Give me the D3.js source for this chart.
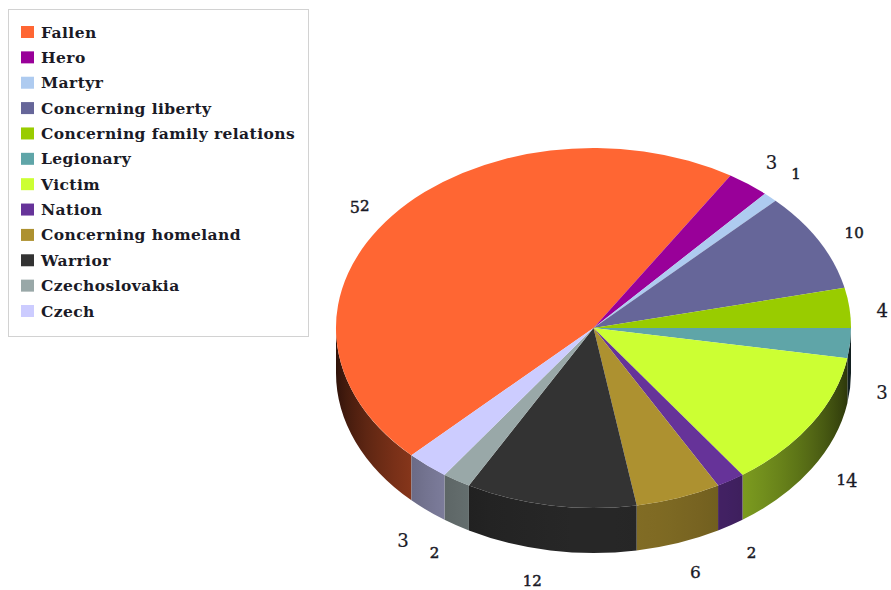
<!DOCTYPE html>
<html>
<head>
<meta charset="utf-8">
<script src="https://cdn.jsdelivr.net/npm/d3@7"></script>
<style>
  html, body { margin: 0; padding: 0; background: #fff; }
  svg { display: block; }
  text { font-family: "DejaVu Serif", serif; fill: #1a1a26; }
</style>
</head>
<body>
<svg id="chart" width="891" height="590"></svg>
<script>
// Word categories and how many times each occurs
const categories = ["Fallen", "Hero", "Martyr", "Concerning liberty", "Concerning family relations",
  "Legionary", "Victim", "Nation", "Concerning homeland", "Warrior", "Czechoslovakia", "Czech"];
const counts = [52, 3, 1, 10, 4, 3, 14, 2, 6, 12, 2, 3];
const colors = ["#ff6633", "#990099", "#aecbf0", "#666699", "#99cc00", "#5fa5a8",
  "#ccff33", "#663399", "#ad9130", "#333333", "#99a8a8", "#ccccff"];
// Fine placement of each value label relative to its radial anchor
const labelNudgeX = [-9, 5, 5, 9, 3, 2, 10, 5, 7, -13, -6, -5];
const labelNudgeY = [9, 2, -1, 7, 6, 2, -4, 3, 2, 1, 3, 7];

const svg = d3.select("#chart");

// Tilted pie geometry: the unit circle is mapped onto an ellipse
const x = d3.scaleLinear().domain([-1, 1]).range([336, 851]);
const y = d3.scaleLinear().domain([-1, 1]).range([148, 508]);
const rx = (x(1) - x(-1)) / 2, ry = (y(1) - y(-1)) / 2;
const depth = 45;

const slices = d3.pie().sort(null).value(d => d)
  .startAngle(Math.PI * 5 / 4).endAngle(Math.PI * 5 / 4 + 2 * Math.PI)(counts);

// d3 measures from twelve o'clock; these helpers work from three o'clock
const east = a => a - Math.PI / 2;
const px = a => x(Math.cos(east(a)));
const py = a => y(Math.sin(east(a)));

// Side wall brightness falls off towards the left and right edges
const shade = (a) => 0.18 + 0.58 * Math.pow(Math.max(0, Math.sin(east(a))), 1.5);

const defs = svg.append("defs");
const walls = svg.append("g");

slices.forEach((s, i) => {
  // Only the part of a slice on the near half of the pie shows a wall
  const turns = Math.floor((s.startAngle + Math.PI / 2) / (2 * Math.PI));
  const lo = Math.max(s.startAngle, Math.PI / 2 + turns * 2 * Math.PI);
  const hi = Math.min(s.endAngle, Math.PI * 3 / 2 + turns * 2 * Math.PI);
  if (hi <= lo) return;

  const x0 = px(lo), x1 = px(hi);
  const grad = defs.append("linearGradient")
    .attr("id", "wall" + i)
    .attr("gradientUnits", "userSpaceOnUse")
    .attr("x1", x0).attr("x2", x1).attr("y1", 0).attr("y2", 0);
  const base = d3.rgb(colors[i]);
  d3.range(0, 9).forEach(k => {
    const a = lo + (hi - lo) * k / 8;
    const f = shade(a);
    grad.append("stop")
      .attr("offset", x0 === x1 ? 0 : (px(a) - x0) / (x1 - x0))
      .attr("stop-color", d3.rgb(base.r * f, base.g * f, base.b * f).formatHex());
  });

  const p = `M${x0},${py(lo)}A${rx},${ry} 0 0 1 ${x1},${py(hi)}` +
    `L${x1},${py(hi) + depth}A${rx},${ry} 0 0 0 ${x0},${py(lo) + depth}Z`;
  walls.append("path").attr("d", p).attr("fill", `url(#wall${i})`);
});

// Top face
const arc = d3.arc().innerRadius(0).outerRadius(1);
svg.append("g")
  .attr("transform", `translate(${x(0)},${y(0)}) scale(${rx},${ry})`)
  .selectAll("path").data(slices).join("path")
  .attr("d", arc)
  .attr("fill", (d, i) => colors[i]);

// Value labels around the pie, set with old-style digit proportions:
// size, baseline drop and outline thickness for each digit
const digitStyle = {
  "0": [15, 0, 0.5], "1": [15, 0, 0.5], "2": [15, 0, 0.5],
  "3": [18, 2, 0.2], "4": [18, 2, 0.3], "5": [16, 2, 0.4], "6": [17, 0, 0.3]
};
const gap = 30;
const labels = svg.append("g");
slices.forEach((s, i) => {
  const mid = east((s.startAngle + s.endAngle) / 2);
  const lx = x(0) + Math.cos(mid) * (rx + gap) + labelNudgeX[i];
  const ly = y(0) + Math.sin(mid) * (ry + gap) + (Math.sin(mid) > 0 ? depth : 0) + labelNudgeY[i];
  const t = labels.append("text")
    .attr("x", lx).attr("y", ly + 4.5)
    .attr("text-anchor", "middle");
  let drop = 0;
  String(s.value).split("").forEach(ch => {
    const st = digitStyle[ch];
    t.append("tspan")
      .attr("font-size", st[0])
      .attr("stroke", "#1a1a26").attr("stroke-width", st[2])
      .attr("dy", st[1] - drop).text(ch);
    drop = st[1];
  });
});

// Legend
const legend = svg.append("g");
legend.append("rect")
  .attr("x", 8.5).attr("y", 9.5).attr("width", 300).attr("height", 327)
  .attr("fill", "#fff").attr("stroke", "#d2d2d2");
const row = d3.scalePoint().domain(categories).range([32, 311]);
const items = legend.selectAll("g").data(categories).join("g")
  .attr("transform", d => `translate(0,${row(d)})`);
items.append("rect")
  .attr("x", 21).attr("y", -6).attr("width", 13).attr("height", 12)
  .attr("fill", (d, i) => colors[i]);
items.append("text")
  .attr("x", 41).attr("y", 5.5)
  .attr("font-size", 15.5).attr("font-weight", 700)
  .attr("letter-spacing", 0.42)
  .text(d => d);
</script>
</body>
</html>
